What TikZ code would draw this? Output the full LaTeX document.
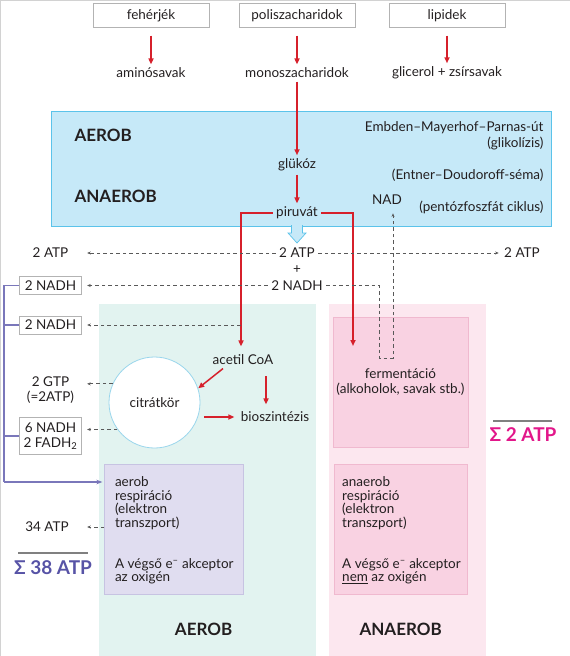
\documentclass[tikz,border=0pt]{standalone}
\usepackage{fontspec}
\setmainfont{Lato}
\usetikzlibrary{arrows.meta}
\definecolor{ink}{HTML}{231F20}
\definecolor{pathred}{HTML}{D6202B}
\definecolor{skyfill}{HTML}{C6E9F8}
\definecolor{skyline}{HTML}{5BC3EA}
\definecolor{tealbg}{HTML}{E2F3F0}
\definecolor{pinkbg}{HTML}{FCE7EF}
\definecolor{pinkfill}{HTML}{F9D2E2}
\definecolor{pinkline}{HTML}{F0B9CF}
\definecolor{lavfill}{HTML}{E0DDF0}
\definecolor{lavline}{HTML}{C7C3E2}
\definecolor{violetln}{HTML}{7A77BA}
\definecolor{sumviolet}{HTML}{5753A6}
\definecolor{summag}{HTML}{E2178A}
\definecolor{dashgray}{HTML}{595959}
\definecolor{boxgray}{HTML}{B3B3B3}
\definecolor{circline}{HTML}{9AD6EC}
\tikzset{
        every node/.style={font=\fontsize{13.5}{15}\selectfont, text=ink}, % base text
        srcbox/.style={draw=boxgray, minimum width=116pt, minimum height=24pt, inner sep=0pt},
        atpbox/.style={draw=boxgray, fill=white, minimum width=62pt, minimum height=18pt, inner sep=0pt},
        leftlbl/.style={minimum width=62pt, inner sep=0pt},
        redarr/.style={draw=pathred, line width=1.5pt, -{Triangle[length=6pt,width=5pt]}},
        dasharr/.style={draw=dashgray, line width=0.9pt, dash pattern=on 3.5pt off 3pt, -{Stealth[length=3.5pt,width=3pt]}},
        bigtxt/.style={font=\fontsize{17}{19}\bfseries\selectfont},
        sumtxt/.style={font=\fontsize{19}{21}\bfseries\selectfont},
        sumrule/.style={draw=gray, line width=1.5pt},
        citrcirc/.style={circle, draw=circline, fill=white, line width=0.8pt, minimum size=91pt, inner sep=0pt},
        pinkbox/.style={draw=pinkline, fill=pinkfill, line width=0.7pt},
        lavbox/.style={draw=lavline, fill=lavfill, line width=0.7pt},
        resptxt/.style={anchor=west, align=left, font=\fontsize{13.5}{13.7}\selectfont},
        bracket/.style={draw=violetln, line width=1.2pt},
}

\begin{document}
\begin{tikzpicture}[x=1pt,y=-1pt]
\useasboundingbox (0,0) rectangle (570,656);
% backgrounds
\fill[tealbg] (99,304) rectangle (316,656);
\fill[pinkbg] (329,304) rectangle (486,656);
\draw[draw=skyline, fill=skyfill, line width=0.7pt] (51,111) rectangle (551,226);
\draw[gray!35] (0.5,656) -- (0.5,0.5) -- (570,0.5);

% sources
\node[srcbox] (feh) at (151,15.3) {fehérjék};
\node[srcbox] (poli) at (297,15.3) {poliszacharidok};
\node[srcbox] (lip) at (447,15.3) {lipidek};
\node (amino) at (151,73) {aminósavak};
\node (mono) at (297,73) {monoszacharidok};
\node (glic) at (447,73) {glicerol + zsírsavak};
\foreach \a/\b in {feh/amino, poli/mono, lip/glic}
  \draw[redarr, shorten <=8pt] (\a) -- (\b);

% glycolysis box
\node[bigtxt, anchor=west] (aerob) at (71,135) {AEROB};
\node[bigtxt, anchor=west] (anaerob) at (71,196) {ANAEROB};
\node[anchor=east] (emp) at (547,128) {Embden–Mayerhof–Parnas-út};
\node[anchor=east] (glik) at (547,143) {(glikolízis)};
\node[anchor=east] (entner) at (547,175) {(Entner–Doudoroff-séma)};
\node[anchor=east] (pento) at (547,207) {(pentózfoszfát ciklus)};
\node (nad) at (387,200) {NAD};
\node (gluk) at (297,165) {glükóz};
\node (piru) at (297,213) {piruvát};
\draw[redarr] (mono) -- (gluk);
\draw[redarr] (gluk) -- (piru);
\draw[draw=skyline, fill=skyfill, line width=0.7pt]
  (291.5,225) -- (291.5,233) -- (288,233) -- (297,243) -- (306,233) -- (302.5,233) -- (302.5,225);

% yields
\node (atpc) at (297,253) {2 ATP};
\node (plus) at (297,270) {+};
\node (nadhc) at (297,285.5) {2 NADH};
\node[leftlbl] (atpl) at (50.5,253) {2 ATP};
\node (atpr) at (522,253) {2 ATP};
\node[atpbox] (nadh1) at (50.5,285.5) {2 NADH};
\node[atpbox] (nadh2) at (50.5,325) {2 NADH};
\node[leftlbl, align=center] (gtp) at (50.5,390) {2 GTP\\(=2ATP)};
\node[atpbox, minimum height=37pt, align=center] (nadh6) at (50.5,436) {6 NADH\\2 FADH\textsubscript{2}};
\node[leftlbl] (atp34) at (47,527) {34 ATP};

% citrate cycle
\node[citrcirc] (citr) at (154.5,402.5) {citrátkör};
\node (acetil) at (243,360) {acetil CoA};
\node (bio) at (275,417) {bioszintézis};
\node[pinkbox, minimum width=133pt, minimum height=130pt, align=center] (ferm) at (400.5,382) {fermentáció\\(alkoholok, savak stb.)};
\node[lavbox, minimum width=138.3pt, minimum height=130pt] (aerobx) at (173.85,529) {};
\node[pinkbox, minimum width=133pt, minimum height=130pt] (anaerobx) at (400.5,529) {};
\node[resptxt] (aertxt) at (111.5,530.5) {aerob\\respiráció\\(elektron\\transzport)\\[27pt]A végső e\textsuperscript{–} akceptor\\az oxigén};
\node[resptxt] (antxt) at (338.7,530.5) {anaerob\\respiráció\\(elektron\\transzport)\\[27pt]A végső e\textsuperscript{–} akceptor\\\underline{nem} az oxigén};

\coordinate (fermin) at (353,346);
\coordinate (acbranch) at (240.7,325);
\coordinate (loopl) at (379,358);
\coordinate (loopr) at (393,358);
\draw[redarr, shorten >=5pt] (piru.west) -| ([xshift=-2pt]acetil.north);
\draw[redarr] (piru.east) -| (fermin);
\draw[redarr] ([xshift=-20pt]acetil.south) -- (citr.18);
\draw[redarr, shorten <=16pt, shorten >=4pt] ([xshift=23pt]acetil.center) -- ([xshift=-9pt]bio.north);
\draw[redarr, shorten <=4pt, shorten >=3pt] (citr.east |- bio) -- (bio);

% dashed yields
\draw[dasharr, shorten >=5.5pt] (atpc) -- (atpl);
\draw[dasharr, shorten >=2pt] (atpc) -- (atpr);
\draw[dasharr, shorten >=5.5pt] (nadhc) -- (nadh1);
\draw[dasharr, shorten >=5.5pt] (acbranch) -- (nadh2);
\draw[dasharr, shorten >=5.5pt] (citr.156) -- (citr.156 -| gtp.east);
\draw[dasharr, shorten >=5.5pt] (citr.216) -- (citr.216 -| nadh6.east);
\draw[dasharr, shorten >=9pt] (aerobx.west |- atp34) -- (atp34.east);
\draw[dasharr, shorten >=5pt] (nadhc.east) -| (loopl) -- (loopr) -- (loopr |- nad.south);

% bracket to respiration
\coordinate (brbot) at (4,482);
\draw[bracket] (nadh1.west) -- (nadh1.west -| brbot) -- (brbot);
\draw[bracket] (nadh2.west) -- (nadh2.west -| brbot);
\draw[bracket] (nadh6.west) -- (nadh6.west -| brbot);
\draw[bracket, -{Stealth[length=6pt,width=4.5pt]}, shorten >=2pt] (brbot) -- (brbot -| aerobx.west);

% totals
\draw[sumrule] (18,553) -- (88,553);
\node[sumtxt, text=sumviolet] (sum38) at (53,568) {Σ 38 ATP};
\draw[sumrule] (493,421) -- (552,421);
\node[sumtxt, text=summag] (sum2) at (523,435) {Σ 2 ATP};
\node[bigtxt] (aerlbl) at (203.6,629) {AEROB};
\node[bigtxt] (anlbl) at (400.6,629) {ANAEROB};
\end{tikzpicture}
\end{document}
